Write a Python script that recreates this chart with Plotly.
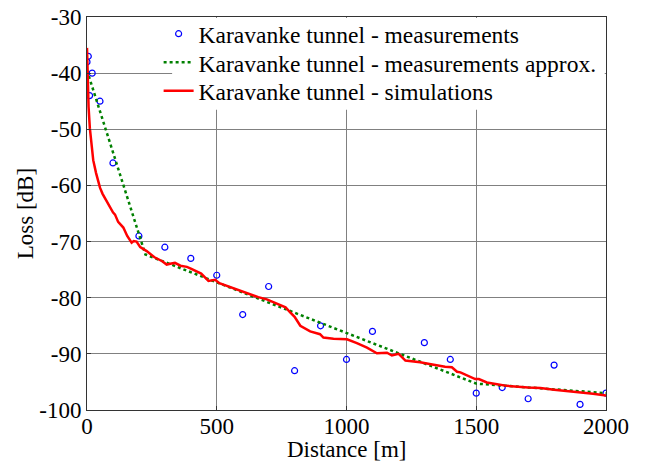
import plotly.graph_objects as go

# Measurements
meas_x = [0, 5, 10, 20, 50, 100, 200, 300, 400, 500, 600, 700, 800, 900, 1000,
          1100, 1300, 1400, 1500, 1600, 1700, 1800, 1900, 2000]
meas_y = [-38, -37, -44, -40, -45, -56, -69, -71, -73, -76, -83, -78, -93, -85, -91,
          -86, -88, -91, -97, -96, -98, -92, -99, -97]

# Measurements approximation (piecewise)
approx_x = [0, 225, 1500, 2000]
approx_y = [-39.5, -72.3, -95.3, -97.0]

# Simulations
sim_x = [0, 3, 6, 11, 16, 24, 35, 44, 50, 60, 76, 89, 100, 108, 120, 140, 155, 172, 180,
         191, 205, 230, 260, 290, 307, 325, 339, 360, 385, 400, 423, 440, 468, 494, 510,
         539, 580, 629, 660, 693, 720, 744, 765, 783, 800, 822, 835, 860, 898, 911, 950,
         1002, 1040, 1079, 1117, 1140, 1156, 1175, 1190, 1201, 1227, 1250, 1284, 1320,
         1349, 1380, 1406, 1426, 1439, 1470, 1496, 1510, 1541, 1580, 1618, 1700, 1747,
         1800, 1875, 1950, 2000]
sim_y = [-35.5, -42, -46, -49.8, -52.6, -55.5, -57.8, -59.3, -60.4, -61.5, -62.8, -64,
         -64.8, -65.2, -66.5, -67.5, -69, -70.2, -69.9, -70, -71, -71.7, -72.8, -73.5,
         -74.1, -73.9, -73.8, -74.3, -74.5, -74.8, -75.4, -75.7, -77, -76.8, -77.4,
         -77.9, -78.6, -79.4, -79.9, -80.3, -80.8, -81.3, -81.7, -82.6, -83.4, -85,
         -85.3, -86, -86.5, -87.1, -87.3, -87.4, -88.1, -88.9, -89.9, -89.8, -89.8,
         -90.3, -90.2, -90, -91.2, -91.3, -91.5, -91.8, -92.1, -92.3, -92.4, -93.2,
         -93.3, -93.9, -94.5, -94.5, -95.1, -95.4, -95.7, -96, -96.1, -96.4, -96.7,
         -97.1, -97.4]

x_ticks = [0, 500, 1000, 1500, 2000]
y_ticks = [-100, -90, -80, -70, -60, -50, -40, -30]
x_title = "Distance [m]"
y_title = "Loss [dB]"

FONT = "Liberation Serif"

fig = go.Figure()
fig.add_trace(go.Scatter(
    x=meas_x, y=meas_y, mode="markers",
    name="Karavanke tunnel - measurements", legend="legend",
    marker=dict(symbol="circle-open", size=6, color="#0000ff", line=dict(width=1.2, color="#0000ff")),
))
fig.add_trace(go.Scatter(
    x=approx_x, y=approx_y, mode="lines",
    name="Karavanke tunnel - measurements approx.", legend="legend2",
    line=dict(color="#008000", width=2.5, dash="dot"),
))
fig.add_trace(go.Scatter(
    x=sim_x, y=sim_y, mode="lines",
    name="Karavanke tunnel - simulations", legend="legend3",
    line=dict(color="#ff0000", width=2.5),
))

# white legend background covering gridlines
fig.add_shape(type="rect", xref="x", yref="y", x0=328, x1=1995, y0=-46.5, y1=-30.2,
              fillcolor="white", line=dict(width=0), layer="between")

leg_common = dict(x=0.138, xanchor="left", yanchor="middle",
                  bgcolor="rgba(0,0,0,0)", borderwidth=0,
                  font=dict(family=FONT, size=23.5, color="black"),
                  itemwidth=30)

fig.update_layout(
    width=645, height=462,
    margin=dict(l=87, r=39, t=15, b=52),
    paper_bgcolor="white", plot_bgcolor="white",
    font=dict(family=FONT, size=23, color="black"),
    showlegend=True,
    legend=dict(y=0.957, **leg_common),
    legend2=dict(y=0.884, **leg_common),
    legend3=dict(y=0.812, **leg_common),
    xaxis=dict(range=[0, 2000], tickvals=x_ticks, ticktext=[str(v) for v in x_ticks],
               showgrid=True, gridcolor="#808080", gridwidth=1,
               showline=True, linecolor="#333333", linewidth=1, mirror=True,
               ticks="inside", ticklen=4, tickcolor="#333333",
               ticklabelstandoff=-5,
               zeroline=False, automargin=False),
    yaxis=dict(range=[-100, -30], tickvals=y_ticks, ticktext=[str(v) for v in y_ticks],
               showgrid=True, gridcolor="#808080", gridwidth=1,
               showline=True, linecolor="#333333", linewidth=1, mirror=True,
               ticks="inside", ticklen=4, tickcolor="#333333",
               zeroline=False, automargin=False),
    annotations=[
        dict(text=x_title, xref="paper", yref="paper", x=0.5, y=-0.101,
             xanchor="center", yanchor="middle", showarrow=False,
             font=dict(family=FONT, size=23, color="black")),
        dict(text=y_title, xref="paper", yref="paper", x=-0.118, y=0.5,
             xanchor="center", yanchor="middle", showarrow=False, textangle=-90,
             font=dict(family=FONT, size=23, color="black")),
    ],
)

fig.write_html("out.html")
